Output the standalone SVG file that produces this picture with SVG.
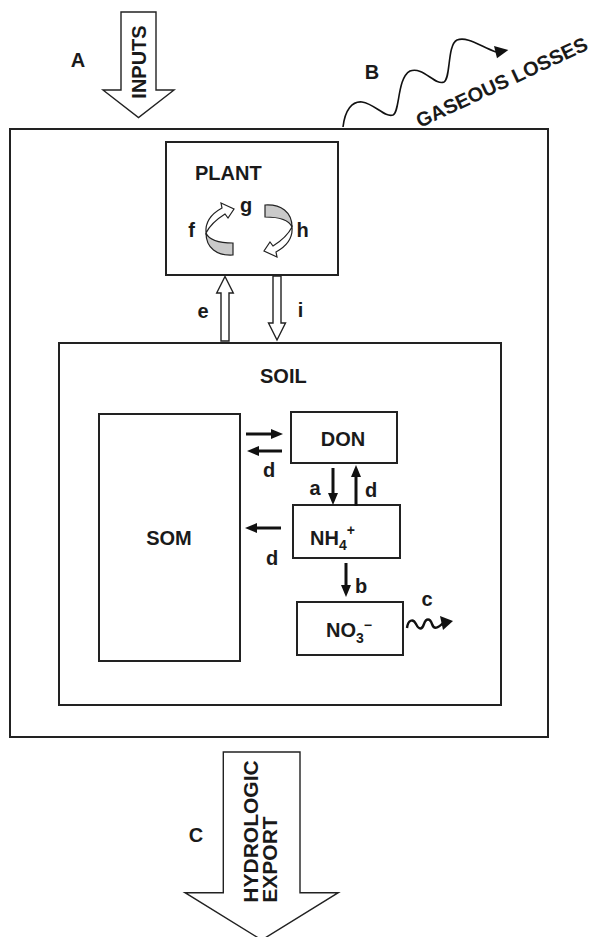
<svg xmlns="http://www.w3.org/2000/svg" xmlns:xlink="http://www.w3.org/1999/xlink" width="597" height="937" viewBox="0 0 597 937">
<style>
  .box { fill: none; stroke: #222; stroke-width: 2; }
  .lbl { font-family: "Liberation Sans", Arial, Helvetica, sans-serif; font-weight: bold; font-size: 20px; fill: #1a1a1a; }
  .big { font-size: 21px; }
  .hollow { fill: #fff; stroke: #222; stroke-width: 1.4; stroke-linejoin: miter; }
  .flow { fill: none; stroke: #111; stroke-width: 3; }
  .wave { fill: none; stroke: #111; stroke-width: 1.6; }
  .wave2 { fill: none; stroke: #111; stroke-width: 2.4; }
  .head { fill: #111; }
  .back { fill: #cacaca; stroke: #222; stroke-width: 1.2; }
  .front { fill: #fff; stroke: #222; stroke-width: 1.2; }
</style>
<defs>
  <marker id="ah" markerUnits="userSpaceOnUse" markerWidth="12" markerHeight="10" refX="2" refY="5" orient="auto">
    <path d="M0,0 L12,5 L0,10 Z" fill="#111"/>
  </marker>
  <g id="curl">
    <path class="back" d="M206,233 C209,240 219,243 233,243 L233,255 C217,256 206,248 206,233 Z"/>
    <path class="front" d="M206,233 C205,222 211,214 222,208 L221,203 L234,209 L228,218 L225,214 C217,219 210,225 206,233 Z"/>
  </g>
</defs>
<rect width="597" height="937" fill="#fff"/>

<g id="outer-system">
  <rect class="box" x="10" y="129" width="538" height="608"/>
</g>

<g id="inputs">
  <polygon class="hollow" points="121,12 156,12 156,90 174,90 138.5,117.5 103,90 121,90"/>
  <text class="lbl" transform="translate(145.5,62) rotate(-90)" text-anchor="middle">INPUTS</text>
  <text class="lbl" x="78" y="67" text-anchor="middle">A</text>
</g>

<g id="gaseous-losses">
  <path class="wave" d="M343,127 C345,110 352,101 362,102 C375,104 385,118 393,115 C400,112 397,78 410,71 C423,66 435,86 444,82 C451,78 447,45 457,40 C467,36 480,46 496,52"/>
  <polygon class="head" points="508.3,50 494,46 497,58.3"/>
  <text class="lbl" x="372" y="79" text-anchor="middle">B</text>
  <text class="lbl" transform="translate(420,128) rotate(-25)" font-size="20.5">GASEOUS LOSSES</text>
</g>

<g id="plant">
  <rect class="box" x="166" y="142" width="172" height="133"/>
  <text class="lbl" x="195" y="180">PLANT</text>
  <use xlink:href="#curl"/>
  <use xlink:href="#curl" transform="rotate(180 249 230)"/>
  <text class="lbl" x="246" y="212" text-anchor="middle">g</text>
  <text class="lbl" x="191.5" y="237" text-anchor="middle">f</text>
  <text class="lbl" x="302.5" y="237" text-anchor="middle">h</text>
</g>

<g id="soil">
  <rect class="box" x="59" y="343" width="442" height="362"/>
  <text class="lbl" x="260" y="383">SOIL</text>
</g>

<g id="som">
  <rect class="box" x="99" y="414" width="141" height="247"/>
  <text class="lbl" x="169" y="545" text-anchor="middle">SOM</text>
</g>

<g id="don">
  <rect class="box" x="291" y="412" width="106" height="51"/>
  <text class="lbl" x="343" y="446" text-anchor="middle">DON</text>
</g>

<g id="nh4">
  <rect class="box" x="293" y="505" width="107" height="53"/>
  <text class="lbl" x="310" y="545">NH<tspan font-size="14" dy="5">4</tspan><tspan font-size="14" dy="-15">+</tspan></text>
</g>

<g id="no3">
  <rect class="box" x="297" y="602" width="106" height="53"/>
  <text class="lbl" x="326" y="637">NO<tspan font-size="14" dy="6">3</tspan><tspan font-size="14" dy="-13">−</tspan></text>
</g>

<g id="hydrologic-export">
  <polygon class="hollow" points="223.3,752 300,752 300,892.7 338.3,892.7 261.7,940 185,892.7 223.3,892.7"/>
  <text class="lbl big" transform="translate(257.5,902.7) rotate(-90)">HYDROLOGIC</text>
  <text class="lbl big" transform="translate(277,902.7) rotate(-90)">EXPORT</text>
  <text class="lbl" x="196" y="842" text-anchor="middle">C</text>
</g>

<g id="connectors">
  <polygon class="hollow" points="221,341 221,293 216.7,293 225,276.5 233.3,293 229,293 229,341"/>
  <text class="lbl" x="203" y="318" text-anchor="middle">e</text>
  <polygon class="hollow" points="273,276 281,276 281,323 285.5,323 277,340 268.5,323 273,323"/>
  <text class="lbl" x="300.5" y="317" text-anchor="middle">i</text>

  <path class="flow" d="M246,434 L273,434" marker-end="url(#ah)"/>
  <path class="flow" d="M282,451 L257,451" marker-end="url(#ah)"/>
  <text class="lbl" x="269" y="477" text-anchor="middle">d</text>

  <path class="flow" d="M333,468 L333,495" marker-end="url(#ah)"/>
  <text class="lbl" x="315" y="495" text-anchor="middle">a</text>
  <path class="flow" d="M356,506 L356,475" marker-end="url(#ah)"/>
  <text class="lbl" x="371" y="497" text-anchor="middle">d</text>

  <path class="flow" d="M281,528 L255,528" marker-end="url(#ah)"/>
  <text class="lbl" x="272" y="565" text-anchor="middle">d</text>

  <path class="flow" d="M346,563 L346,587" marker-end="url(#ah)"/>
  <text class="lbl" x="361" y="593" text-anchor="middle">b</text>

  <path class="wave2" d="M407,628 C408,620 413,618 416,624 C419,630 422,630 424,624 C426,618 430,618 432,624 C434,630 438,628 443,623"/>
  <polygon class="head" points="453,621 440,616 443,630"/>
  <text class="lbl" x="427" y="606" text-anchor="middle">c</text>
</g>
</svg>
